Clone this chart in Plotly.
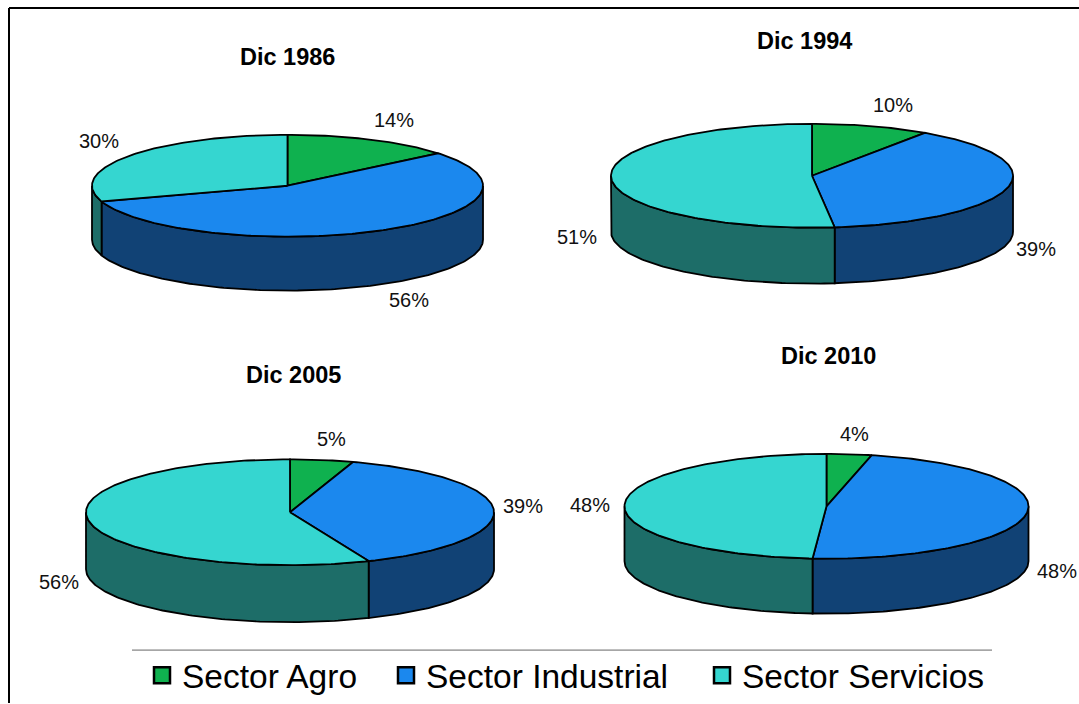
import math
import plotly.graph_objects as go

# ---- data ----
YEARS = ["Dic 1986", "Dic 1994", "Dic 2005", "Dic 2010"]
SERIES = ["Sector Agro", "Sector Industrial", "Sector Servicios"]
# slice shares (printed labels are below)
agro_share = [14.0, 9.5, 5.0, 3.6]
industrial_share = [56.0, 38.7, 38.7, 47.5]
services_share = [30.0, 51.8, 56.3, 48.9]
agro_label = ["14%", "10%", "5%", "4%"]
industrial_label = ["56%", "39%", "39%", "48%"]
services_label = ["30%", "51%", "56%", "48%"]

# ---- layout and style ----
W, H = 1079, 704
TOP = ["#0FB14F", "#1B88EE", "#35D6D0"]
SIDE = ["#0A6B30", "#114275", "#1D6D68"]
PIES = [  # cx, cy, rx, ry, depth
    (287.5, 186, 195.5, 51, 54),
    (812, 176, 201, 52, 56),
    (290, 513, 204, 53, 57),
    (826.5, 507, 202, 52.5, 55),
]
TITLE_POS = [(287, 57), (804, 41), (293, 376), (828, 357)]
LABEL_OFFSETS = [
    [(23, -20), (27, 16), (-30, -15)],
    [(22, -21), (29, 4.5), (-34, 2)],
    [(10, -21), (29, -4), (-31, 2)],
    [(5, -20), (31, 2), (-35, 1)],
]
LEGEND_X = [142, 386, 702]
LEGEND_Y = 676
FONT = "Liberation Sans"


def ell(p, deg, dz=0):
    cx, cy, rx, ry, _ = p
    a = math.radians(deg)
    return cx + rx * math.sin(a), cy - ry * math.cos(a) + dz


def arc(p, a0, a1, dz=0, step=1.0):
    n = max(2, int(abs(a1 - a0) / step) + 1)
    return [ell(p, a0 + (a1 - a0) * i / (n - 1), dz) for i in range(n)]


fig = go.Figure()


def poly(pts, fill, name):
    fig.add_trace(go.Scatter(
        x=[q[0] for q in pts], y=[q[1] for q in pts], mode="lines", fill="toself",
        fillcolor=fill, line=dict(color="black", width=1.8), showlegend=False,
        hoverinfo="skip", name=name))


annotations = []
for k, year in enumerate(YEARS):
    p = PIES[k]
    shares = [agro_share[k], industrial_share[k], services_share[k]]
    labels = [agro_label[k], industrial_label[k], services_label[k]]
    total = sum(shares)
    start = 0.0
    slices = []
    for i, s in enumerate(shares):
        end = start + 360 * s / total
        slices.append((start, end))
        start = end
    # walls of the front half
    for i, (a0, a1) in enumerate(slices):
        lo, hi = max(a0, 90), min(a1, 270)
        if hi > lo:
            poly(arc(p, lo, hi) + arc(p, hi, lo, p[4]) + [ell(p, lo)], SIDE[i], SERIES[i] + " wall")
    # top faces
    for i, (a0, a1) in enumerate(slices):
        poly([(p[0], p[1])] + arc(p, a0, a1) + [(p[0], p[1])], TOP[i], SERIES[i])
    # labels
    for i, (a0, a1) in enumerate(slices):
        mid = (a0 + a1) / 2
        dz = p[4] if 90 < mid < 270 else 0
        x, y = ell(p, mid, dz)
        dx, dy = LABEL_OFFSETS[k][i]
        annotations.append(dict(x=x + dx, y=y + dy, text=labels[i], showarrow=False,
                                font=dict(family=FONT, size=20, color="#111")))
    annotations.append(dict(x=TITLE_POS[k][0], y=TITLE_POS[k][1], text="<b>%s</b>" % year,
                            showarrow=False, font=dict(family=FONT, size=23.5, color="black")))

legend_layout = {}
for i, name in enumerate(SERIES):
    key = "legend" if i == 0 else "legend%d" % (i + 1)
    fig.add_trace(go.Scatter(
        x=[None], y=[None], mode="markers", name=name, legend=key, showlegend=True,
        marker=dict(symbol="square", size=16, color=TOP[i], line=dict(color="black", width=2.5))))
    legend_layout[key] = dict(
        orientation="h", x=LEGEND_X[i] / W, xanchor="left", y=1 - LEGEND_Y / H, yanchor="middle",
        font=dict(family=FONT, size=33.5, color="black"), bgcolor="rgba(0,0,0,0)",
        itemclick=False, itemdoubleclick=False)

fig.update_layout(
    width=W, height=H, margin=dict(l=0, r=0, t=0, b=0, pad=0),
    paper_bgcolor="white", plot_bgcolor="white",
    xaxis=dict(range=[0, W], visible=False, fixedrange=True),
    yaxis=dict(range=[H, 0], visible=False, fixedrange=True),
    annotations=annotations,
    shapes=[
        dict(type="line", x0=9, x1=W, y0=8, y1=8, line=dict(color="black", width=2)),
        dict(type="line", x0=9, x1=9, y0=8, y1=H, line=dict(color="black", width=2)),
        dict(type="line", x0=132, x1=992, y0=651, y1=651, line=dict(color="#666666", width=1)),
    ],
    **legend_layout,
)

fig.write_html("out.html", config={"displayModeBar": False},
               post_script="document.body.style.margin='0';document.body.style.overflow='hidden';")
